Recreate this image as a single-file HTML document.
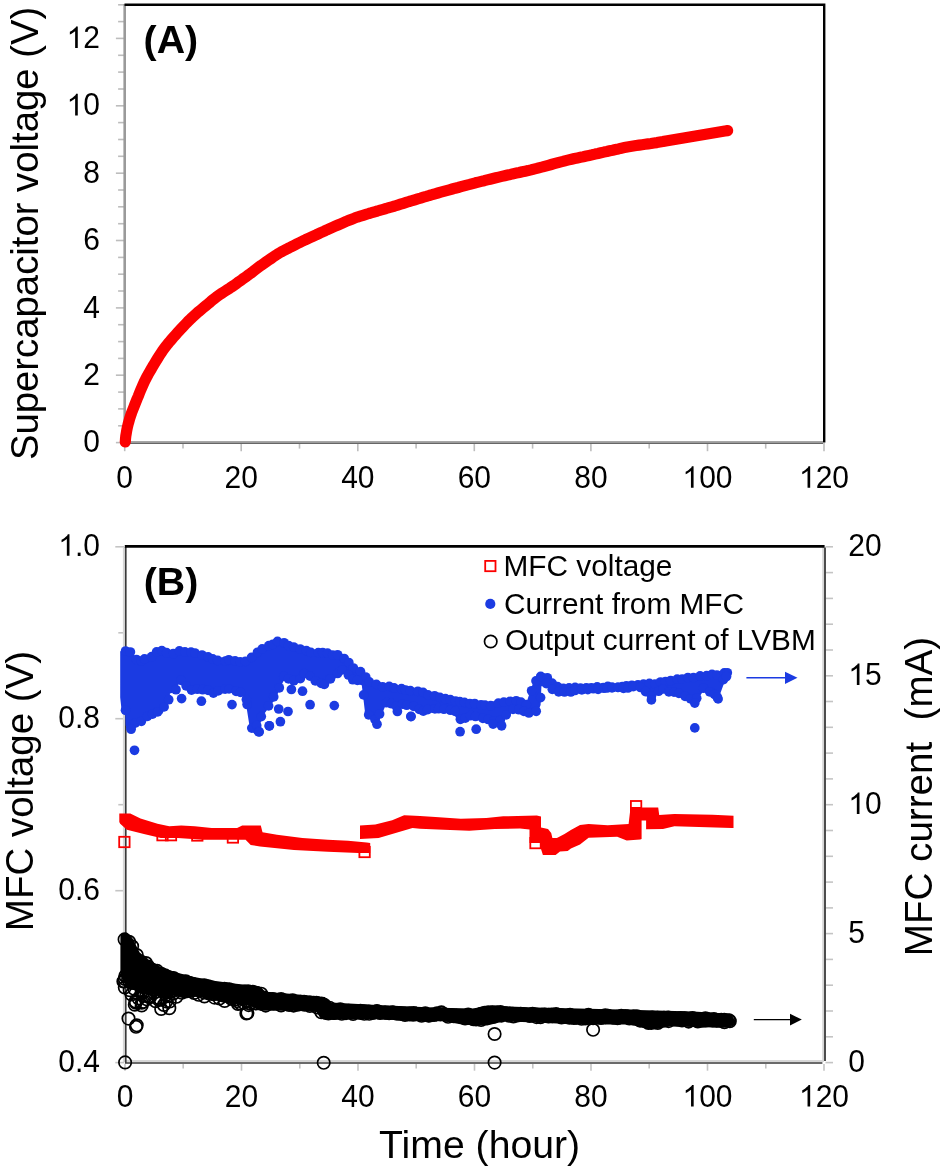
<!DOCTYPE html>
<html><head><meta charset="utf-8"><title>Supercapacitor and MFC chart</title>
<style>html,body{margin:0;padding:0;background:#fff;width:944px;height:1171px;overflow:hidden}svg{display:block}.l{position:absolute;left:0;top:0}.t{position:absolute;left:0;top:0;width:944px;height:1171px;will-change:transform}text{font-family:"Liberation Sans", sans-serif;fill:#000}</style>
</head><body>
<svg class="l" width="944" height="1171" viewBox="0 0 944 1171">
<rect width="944" height="1171" fill="#fff"/>
<g stroke="#bdbdbd" stroke-width="1.6"><line x1="115.9" y1="442.6" x2="124" y2="442.6"/><line x1="118.1" y1="425.8" x2="124" y2="425.8"/><line x1="118.1" y1="408.9" x2="124" y2="408.9"/><line x1="118.1" y1="392.1" x2="124" y2="392.1"/><line x1="115.9" y1="375.2" x2="124" y2="375.2"/><line x1="118.1" y1="358.4" x2="124" y2="358.4"/><line x1="118.1" y1="341.6" x2="124" y2="341.6"/><line x1="118.1" y1="324.7" x2="124" y2="324.7"/><line x1="115.9" y1="307.9" x2="124" y2="307.9"/><line x1="118.1" y1="291" x2="124" y2="291"/><line x1="118.1" y1="274.2" x2="124" y2="274.2"/><line x1="118.1" y1="257.4" x2="124" y2="257.4"/><line x1="115.9" y1="240.5" x2="124" y2="240.5"/><line x1="118.1" y1="223.7" x2="124" y2="223.7"/><line x1="118.1" y1="206.8" x2="124" y2="206.8"/><line x1="118.1" y1="190" x2="124" y2="190"/><line x1="115.9" y1="173.2" x2="124" y2="173.2"/><line x1="118.1" y1="156.3" x2="124" y2="156.3"/><line x1="118.1" y1="139.5" x2="124" y2="139.5"/><line x1="118.1" y1="122.6" x2="124" y2="122.6"/><line x1="115.9" y1="105.8" x2="124" y2="105.8"/><line x1="118.1" y1="89" x2="124" y2="89"/><line x1="118.1" y1="72.1" x2="124" y2="72.1"/><line x1="118.1" y1="55.3" x2="124" y2="55.3"/><line x1="115.9" y1="38.4" x2="124" y2="38.4"/><line x1="118.1" y1="21.6" x2="124" y2="21.6"/><line x1="118.1" y1="4.8" x2="124" y2="4.8"/><line x1="124.7" y1="443" x2="124.7" y2="451.2"/><line x1="183" y1="443" x2="183" y2="448.6"/><line x1="241.2" y1="443" x2="241.2" y2="451.2"/><line x1="299.5" y1="443" x2="299.5" y2="448.6"/><line x1="357.8" y1="443" x2="357.8" y2="451.2"/><line x1="416.1" y1="443" x2="416.1" y2="448.6"/><line x1="474.3" y1="443" x2="474.3" y2="451.2"/><line x1="532.6" y1="443" x2="532.6" y2="448.6"/><line x1="590.9" y1="443" x2="590.9" y2="451.2"/><line x1="649.2" y1="443" x2="649.2" y2="448.6"/><line x1="707.5" y1="443" x2="707.5" y2="451.2"/><line x1="765.7" y1="443" x2="765.7" y2="448.6"/><line x1="824" y1="443" x2="824" y2="451.2"/></g>
<line x1="124.7" y1="4" x2="124.7" y2="443.6" stroke="#9a9a9a" stroke-width="2.6"/>
<line x1="123.5" y1="441.8" x2="823" y2="441.8" stroke="#a6a6a6" stroke-width="1.4"/>
<line x1="123.5" y1="443.2" x2="823" y2="443.2" stroke="#666" stroke-width="1.6"/>
<path d="M124.5 4.8 H824.2 V442.6" fill="none" stroke="#000" stroke-width="2.4"/>
<polyline points="125.3,442 125.5,439 125.8,436 126.3,433.1 126.8,430.1 127.4,427.2 128.1,424.3 128.9,421.4 129.7,418.5 130.6,415.7 131.6,412.8 132.7,410 133.8,407.2 134.9,404.4 136,401.7 137.1,398.9 138.3,396.1 139.4,393.3 140.5,390.5 141.7,387.8 142.9,385 144.1,382.3 145.4,379.6 146.8,376.9 148.2,374.3 149.7,371.7 151.2,369.1 152.7,366.5 154.3,363.9 155.8,361.4 157.4,358.8 158.9,356.3 160.6,353.7 162.2,351.3 164,348.8 165.8,346.4 167.6,344.1 169.5,341.8 171.5,339.5 173.5,337.2 175.5,335 177.5,332.7 179.5,330.5 181.5,328.3 183.6,326.1 185.6,324 187.7,321.8 189.8,319.7 192,317.6 194.2,315.6 196.4,313.6 198.7,311.6 201,309.7 203.3,307.8 205.6,305.9 207.9,304 210.2,302.1 212.5,300.1 214.9,298.3 217.2,296.4 219.7,294.7 222.2,293 224.7,291.4 227.2,289.8 229.7,288.2 232.2,286.5 234.7,284.8 237.1,283.1 239.5,281.3 242,279.6 244.4,277.8 246.9,276.1 249.3,274.3 251.7,272.6 254.1,270.7 256.4,268.9 258.8,267.1 261.2,265.3 263.7,263.6 266.1,261.9 268.6,260.2 271.1,258.5 273.5,256.8 276,255.1 278.5,253.5 281.1,252 283.7,250.6 286.4,249.2 289.1,247.9 291.8,246.5 294.4,245.2 297.1,243.8 299.8,242.5 302.5,241.1 305.2,239.9 307.9,238.6 310.6,237.4 313.4,236.1 316.1,234.9 318.8,233.6 321.5,232.3 324.3,231.1 327,229.8 329.7,228.6 332.5,227.4 335.2,226.2 338,225 340.7,223.8 343.5,222.6 346.2,221.4 349,220.3 351.8,219.2 354.6,218.1 357.4,217.1 360.3,216.2 363.1,215.3 366,214.4 368.9,213.5 371.7,212.7 374.6,211.8 377.5,211 380.4,210.1 383.3,209.3 386.1,208.5 389,207.6 391.9,206.8 394.8,206 397.7,205.1 400.5,204.2 403.4,203.3 406.2,202.4 409.1,201.5 412,200.7 414.8,199.8 417.7,198.9 420.6,198.1 423.5,197.2 426.3,196.4 429.2,195.5 432.1,194.7 435,193.8 437.9,193 440.8,192.2 443.6,191.4 446.5,190.6 449.4,189.8 452.3,189 455.2,188.2 458.1,187.5 461,186.7 463.9,185.9 466.8,185.1 469.7,184.4 472.6,183.6 475.5,182.8 478.4,182.1 481.3,181.4 484.2,180.7 487.2,179.9 490.1,179.2 493,178.5 495.9,177.8 498.8,177.1 501.7,176.4 504.7,175.7 507.6,175 510.5,174.4 513.4,173.7 516.4,173.1 519.3,172.5 522.2,171.8 525.2,171.2 528.1,170.6 531,169.9 533.9,169.1 536.8,168.4 539.7,167.6 542.6,166.9 545.5,166.1 548.4,165.3 551.3,164.5 554.2,163.7 557.1,162.9 560,162.1 562.9,161.4 565.8,160.6 568.7,159.9 571.6,159.2 574.5,158.5 577.5,157.9 580.4,157.3 583.3,156.7 586.3,156 589.2,155.4 592.1,154.8 595.1,154.1 598,153.5 600.9,152.8 603.9,152.1 606.8,151.5 609.7,150.8 612.6,150.2 615.6,149.5 618.5,148.9 621.4,148.2 624.4,147.6 627.3,147 630.2,146.5 633.2,146 636.2,145.5 639.1,145.1 642.1,144.7 645.1,144.3 648.1,143.9 651,143.5 654,143 656.9,142.6 659.9,142.1 662.9,141.6 665.8,141 668.8,140.5 671.7,140 674.7,139.5 677.6,139 680.6,138.5 683.6,138 686.5,137.5 689.5,137 692.4,136.5 695.4,136 698.3,135.5 701.3,135 704.3,134.5 707.2,134 710.2,133.5 713.1,133 716.1,132.5 719,132 722,131.5 724.9,131 727.6,130.6" fill="none" stroke="#fc0000" stroke-width="11.2" stroke-linecap="round" stroke-linejoin="round"/>
<g stroke="#c4c4c4" stroke-width="1.6"><line x1="115.3" y1="1062.6" x2="124" y2="1062.6"/><line x1="118.3" y1="976.6" x2="124" y2="976.6"/><line x1="115.3" y1="890.7" x2="124" y2="890.7"/><line x1="118.3" y1="804.7" x2="124" y2="804.7"/><line x1="115.3" y1="718.7" x2="124" y2="718.7"/><line x1="118.3" y1="632.8" x2="124" y2="632.8"/><line x1="115.3" y1="546.8" x2="124" y2="546.8"/><line x1="825.5" y1="1062.6" x2="833" y2="1062.6"/><line x1="825.5" y1="1036.8" x2="833" y2="1036.8"/><line x1="825.5" y1="1011" x2="833" y2="1011"/><line x1="825.5" y1="985.2" x2="833" y2="985.2"/><line x1="825.5" y1="959.4" x2="833" y2="959.4"/><line x1="825.5" y1="933.6" x2="833" y2="933.6"/><line x1="825.5" y1="907.9" x2="833" y2="907.9"/><line x1="825.5" y1="882.1" x2="833" y2="882.1"/><line x1="825.5" y1="856.3" x2="833" y2="856.3"/><line x1="825.5" y1="830.5" x2="833" y2="830.5"/><line x1="825.5" y1="804.7" x2="833" y2="804.7"/><line x1="825.5" y1="778.9" x2="833" y2="778.9"/><line x1="825.5" y1="753.1" x2="833" y2="753.1"/><line x1="825.5" y1="727.3" x2="833" y2="727.3"/><line x1="825.5" y1="701.5" x2="833" y2="701.5"/><line x1="825.5" y1="675.8" x2="833" y2="675.8"/><line x1="825.5" y1="650" x2="833" y2="650"/><line x1="825.5" y1="624.2" x2="833" y2="624.2"/><line x1="825.5" y1="598.4" x2="833" y2="598.4"/><line x1="825.5" y1="572.6" x2="833" y2="572.6"/><line x1="825.5" y1="546.8" x2="833" y2="546.8"/><line x1="125" y1="1064" x2="125" y2="1070.7"/><line x1="183.2" y1="1064" x2="183.2" y2="1068.5"/><line x1="241.5" y1="1064" x2="241.5" y2="1070.7"/><line x1="299.8" y1="1064" x2="299.8" y2="1068.5"/><line x1="358" y1="1064" x2="358" y2="1070.7"/><line x1="416.2" y1="1064" x2="416.2" y2="1068.5"/><line x1="474.5" y1="1064" x2="474.5" y2="1070.7"/><line x1="532.8" y1="1064" x2="532.8" y2="1068.5"/><line x1="591" y1="1064" x2="591" y2="1070.7"/><line x1="649.2" y1="1064" x2="649.2" y2="1068.5"/><line x1="707.5" y1="1064" x2="707.5" y2="1070.7"/><line x1="765.8" y1="1064" x2="765.8" y2="1068.5"/><line x1="824" y1="1064" x2="824" y2="1070.7"/></g>
<g fill="none">
<path d="M123.8 547 V1061 H823.1 V547" stroke="#d6d6d6" stroke-width="1.8"/>
<path d="M125.75 547 V1063 H822.4" stroke="#3a3a3a" stroke-width="1.7"/>
<path d="M825 547.5 V1061" stroke="#444" stroke-width="1.9"/>
<line x1="124.8" y1="546.3" x2="824.6" y2="546.3" stroke="#000" stroke-width="2.8"/>
</g>
<rect x="485.2" y="560.9" width="10.3" height="10.3" fill="none" stroke="#fc0000" stroke-width="1.8"/>
<circle cx="490.3" cy="603.9" r="5.1" fill="#1b3be2"/>
<circle cx="490.7" cy="641.5" r="6.2" fill="none" stroke="#000" stroke-width="1.7"/>
<line x1="746.4" y1="677.8" x2="786" y2="677.8" stroke="#1b3be2" stroke-width="1.4"/>
<path d="M785 671.7 L797.5 677.8 L785 683.9 Z" fill="#1b3be2"/>
<line x1="753.8" y1="1019.6" x2="791" y2="1019.6" stroke="#000" stroke-width="1.4"/>
<path d="M790 1013.8 L801.8 1019.6 L790 1025.4 Z" fill="#000"/>
<polygon points="120.4,934.8 126.3,932.6 132.2,937.8 139.7,952.6 148.6,960 161.9,967.5 176.7,972.6 191.6,976.4 213.8,980.8 236.1,983.8 250,985.3 260.1,986.5 265.4,991.8 293,993.9 324.7,997.1 331.1,1002.4 367.1,1004.5 409.5,1006.6 440,1007.7 472.4,1008.6 491.4,1005.4 506.3,1006.5 535.9,1007.5 578.3,1008.6 630,1009.7 646.6,1010.3 693.2,1011.5 730.5,1013.8 735.5,1020.8 733,1025 725.8,1027.8 669.9,1026.6 651.3,1030.1 630,1024.5 578.3,1024.5 535.9,1022.4 504.2,1021.3 487.2,1025.6 461.8,1024.5 440,1020.4 420.1,1021.4 388.3,1019.3 345.9,1019.3 333.2,1020 320.5,1018 316.3,1011.9 303.6,1010.8 261.2,1010.8 250,1006 228.6,1003 213.8,1000 199,997.1 184.2,996 169.3,995.6 154.5,994.2 139.7,992.7 124.8,983.8 120.4,975" fill="#000"/><g fill="none" stroke="#000" stroke-width="1.7"><circle cx="124.6" cy="939.4" r="6.2"/><circle cx="125.3" cy="975.9" r="6.2"/><circle cx="129.1" cy="941.8" r="6.2"/><circle cx="128.1" cy="979.6" r="6.2"/><circle cx="132.1" cy="946.3" r="6.2"/><circle cx="132.1" cy="980.8" r="6.2"/><circle cx="136.8" cy="955.1" r="6.2"/><circle cx="136.2" cy="983.6" r="6.2"/><circle cx="141.3" cy="961.8" r="6.2"/><circle cx="141.2" cy="985.8" r="6.2"/><circle cx="146" cy="963.1" r="6.2"/><circle cx="145.7" cy="985.9" r="6.2"/><circle cx="148.3" cy="966.5" r="6.2"/><circle cx="148.6" cy="987.9" r="6.2"/><circle cx="152.4" cy="969.8" r="6.2"/><circle cx="153.3" cy="987" r="6.2"/><circle cx="157.1" cy="970.9" r="6.2"/><circle cx="156.1" cy="986.9" r="6.2"/><circle cx="161.4" cy="973.9" r="6.2"/><circle cx="160.6" cy="988.4" r="6.2"/><circle cx="164.9" cy="975.2" r="6.2"/><circle cx="165.6" cy="989.1" r="6.2"/><circle cx="168.5" cy="977.2" r="6.2"/><circle cx="169.1" cy="990" r="6.2"/><circle cx="173.5" cy="978" r="6.2"/><circle cx="174" cy="987.9" r="6.2"/><circle cx="176.8" cy="980.3" r="6.2"/><circle cx="176.3" cy="989.1" r="6.2"/><circle cx="180.1" cy="981.2" r="6.2"/><circle cx="181.5" cy="989.4" r="6.2"/><circle cx="185.8" cy="981.4" r="6.2"/><circle cx="185.4" cy="989.6" r="6.2"/><circle cx="189.2" cy="982.7" r="6.2"/><circle cx="189.7" cy="991" r="6.2"/><circle cx="192.9" cy="984.1" r="6.2"/><circle cx="192.1" cy="990.6" r="6.2"/><circle cx="197.3" cy="985.7" r="6.2"/><circle cx="197.6" cy="989.6" r="6.2"/><circle cx="200.8" cy="985.7" r="6.2"/><circle cx="200" cy="990.7" r="6.2"/><circle cx="204.3" cy="985.3" r="6.2"/><circle cx="204.1" cy="992.4" r="6.2"/><circle cx="208.3" cy="986.4" r="6.2"/><circle cx="208.8" cy="993.5" r="6.2"/><circle cx="212.2" cy="987.6" r="6.2"/><circle cx="213.1" cy="994.3" r="6.2"/><circle cx="217.6" cy="989.1" r="6.2"/><circle cx="216.6" cy="993.7" r="6.2"/><circle cx="220.7" cy="989.7" r="6.2"/><circle cx="221.9" cy="993.7" r="6.2"/><circle cx="224.4" cy="988.8" r="6.2"/><circle cx="224.5" cy="995.5" r="6.2"/><circle cx="229.2" cy="989.4" r="6.2"/><circle cx="228" cy="996.1" r="6.2"/><circle cx="232.7" cy="990.6" r="6.2"/><circle cx="233.9" cy="997.5" r="6.2"/><circle cx="237" cy="991.3" r="6.2"/><circle cx="237.4" cy="996.1" r="6.2"/><circle cx="241.8" cy="992" r="6.2"/><circle cx="241.7" cy="998.9" r="6.2"/><circle cx="244.8" cy="991.6" r="6.2"/><circle cx="244.2" cy="999" r="6.2"/><circle cx="248.1" cy="991.3" r="6.2"/><circle cx="248.4" cy="998.1" r="6.2"/><circle cx="252.7" cy="991.8" r="6.2"/><circle cx="252" cy="999.5" r="6.2"/><circle cx="256.2" cy="992.9" r="6.2"/><circle cx="256.1" cy="1003.4" r="6.2"/><circle cx="261.2" cy="993.7" r="6.2"/><circle cx="260.5" cy="1003.6" r="6.2"/><circle cx="264.7" cy="997.7" r="6.2"/><circle cx="265.7" cy="1005.6" r="6.2"/><circle cx="268.9" cy="999.1" r="6.2"/><circle cx="268.2" cy="1002.9" r="6.2"/><circle cx="272.7" cy="999" r="6.2"/><circle cx="273.7" cy="1003.1" r="6.2"/><circle cx="276" cy="1000.8" r="6.2"/><circle cx="277.1" cy="1003" r="6.2"/><circle cx="281.1" cy="999" r="6.2"/><circle cx="281.1" cy="1005.5" r="6.2"/><circle cx="285.7" cy="1000.8" r="6.2"/><circle cx="284.5" cy="1003.7" r="6.2"/><circle cx="288.3" cy="1001.3" r="6.2"/><circle cx="289.1" cy="1004.9" r="6.2"/><circle cx="292.7" cy="1000.4" r="6.2"/><circle cx="293.6" cy="1005.6" r="6.2"/><circle cx="297.7" cy="1002.1" r="6.2"/><circle cx="297.6" cy="1004.8" r="6.2"/><circle cx="300.5" cy="1001.8" r="6.2"/><circle cx="300.7" cy="1002.7" r="6.2"/><circle cx="304.1" cy="1001.7" r="6.2"/><circle cx="304.5" cy="1004.8" r="6.2"/><circle cx="309.9" cy="1002.5" r="6.2"/><circle cx="309.9" cy="1006" r="6.2"/><circle cx="313.9" cy="1002.7" r="6.2"/><circle cx="312.4" cy="1004.1" r="6.2"/><circle cx="316.4" cy="1002.8" r="6.2"/><circle cx="317.2" cy="1007.4" r="6.2"/><circle cx="321.7" cy="1003.8" r="6.2"/><circle cx="321.3" cy="1012.3" r="6.2"/><circle cx="324.2" cy="1004.8" r="6.2"/><circle cx="325.8" cy="1012.9" r="6.2"/><circle cx="329.5" cy="1007.7" r="6.2"/><circle cx="328.4" cy="1013.5" r="6.2"/><circle cx="332.7" cy="1010.3" r="6.2"/><circle cx="333.9" cy="1013" r="6.2"/><circle cx="336.8" cy="1010.8" r="6.2"/><circle cx="337.4" cy="1012.1" r="6.2"/><circle cx="340.3" cy="1009.3" r="6.2"/><circle cx="341.8" cy="1013.8" r="6.2"/><circle cx="344.3" cy="1011" r="6.2"/><circle cx="346" cy="1013.1" r="6.2"/><circle cx="348.7" cy="1010.7" r="6.2"/><circle cx="348.3" cy="1011.1" r="6.2"/><circle cx="353.9" cy="1011.1" r="6.2"/><circle cx="353.1" cy="1013.9" r="6.2"/><circle cx="356.9" cy="1011.8" r="6.2"/><circle cx="357.7" cy="1011.7" r="6.2"/><circle cx="360.5" cy="1010.8" r="6.2"/><circle cx="360.5" cy="1012.9" r="6.2"/><circle cx="364.5" cy="1011.3" r="6.2"/><circle cx="364.3" cy="1013.8" r="6.2"/><circle cx="368.7" cy="1011.6" r="6.2"/><circle cx="369.2" cy="1013.8" r="6.2"/><circle cx="372.8" cy="1012.8" r="6.2"/><circle cx="373" cy="1012.7" r="6.2"/><circle cx="377" cy="1011" r="6.2"/><circle cx="376.9" cy="1011.6" r="6.2"/><circle cx="380" cy="1012.9" r="6.2"/><circle cx="380.3" cy="1012.5" r="6.2"/><circle cx="385.5" cy="1012.6" r="6.2"/><circle cx="384.7" cy="1012.7" r="6.2"/><circle cx="389.1" cy="1013.3" r="6.2"/><circle cx="388.2" cy="1012.8" r="6.2"/><circle cx="392.5" cy="1012.4" r="6.2"/><circle cx="393.5" cy="1012.9" r="6.2"/><circle cx="397.1" cy="1013.7" r="6.2"/><circle cx="397.8" cy="1013" r="6.2"/><circle cx="401.2" cy="1013.3" r="6.2"/><circle cx="401" cy="1014" r="6.2"/><circle cx="404.9" cy="1013.6" r="6.2"/><circle cx="405" cy="1015" r="6.2"/><circle cx="409.4" cy="1014.5" r="6.2"/><circle cx="409.9" cy="1013.2" r="6.2"/><circle cx="413.1" cy="1014.8" r="6.2"/><circle cx="413.7" cy="1013.1" r="6.2"/><circle cx="416.2" cy="1013.8" r="6.2"/><circle cx="416.1" cy="1013.7" r="6.2"/><circle cx="420.1" cy="1014.5" r="6.2"/><circle cx="421.6" cy="1015.8" r="6.2"/><circle cx="424.3" cy="1014.7" r="6.2"/><circle cx="425.3" cy="1013.4" r="6.2"/><circle cx="429.8" cy="1015.4" r="6.2"/><circle cx="428.4" cy="1015.6" r="6.2"/><circle cx="432.8" cy="1014.5" r="6.2"/><circle cx="434" cy="1015" r="6.2"/><circle cx="436.3" cy="1014.5" r="6.2"/><circle cx="437" cy="1013.4" r="6.2"/><circle cx="440.4" cy="1014.4" r="6.2"/><circle cx="441.4" cy="1012.4" r="6.2"/><circle cx="445.1" cy="1014.8" r="6.2"/><circle cx="444" cy="1014.1" r="6.2"/><circle cx="449.2" cy="1015.1" r="6.2"/><circle cx="448.1" cy="1016.8" r="6.2"/><circle cx="453.6" cy="1016.2" r="6.2"/><circle cx="452.2" cy="1015.4" r="6.2"/><circle cx="456.1" cy="1015.9" r="6.2"/><circle cx="456.5" cy="1015.8" r="6.2"/><circle cx="460.8" cy="1016.3" r="6.2"/><circle cx="461.6" cy="1016.9" r="6.2"/><circle cx="464.3" cy="1016.4" r="6.2"/><circle cx="465.1" cy="1018.5" r="6.2"/><circle cx="468.2" cy="1014.6" r="6.2"/><circle cx="469.4" cy="1017.9" r="6.2"/><circle cx="472.1" cy="1016.6" r="6.2"/><circle cx="473.3" cy="1019.2" r="6.2"/><circle cx="476.2" cy="1015.7" r="6.2"/><circle cx="476.1" cy="1019.5" r="6.2"/><circle cx="480.9" cy="1013.9" r="6.2"/><circle cx="481.1" cy="1019.9" r="6.2"/><circle cx="484.5" cy="1012.8" r="6.2"/><circle cx="485.1" cy="1018" r="6.2"/><circle cx="488.2" cy="1012.2" r="6.2"/><circle cx="488.1" cy="1017.6" r="6.2"/><circle cx="492.6" cy="1012.2" r="6.2"/><circle cx="493.5" cy="1016.8" r="6.2"/><circle cx="497" cy="1012.2" r="6.2"/><circle cx="496.7" cy="1015" r="6.2"/><circle cx="500.5" cy="1012.1" r="6.2"/><circle cx="501.5" cy="1015.6" r="6.2"/><circle cx="504.4" cy="1013.4" r="6.2"/><circle cx="505.9" cy="1013.4" r="6.2"/><circle cx="509.6" cy="1013.5" r="6.2"/><circle cx="509" cy="1015.8" r="6.2"/><circle cx="512.8" cy="1013.8" r="6.2"/><circle cx="513.4" cy="1016.4" r="6.2"/><circle cx="516.7" cy="1014.7" r="6.2"/><circle cx="517.4" cy="1015.5" r="6.2"/><circle cx="520.8" cy="1013.8" r="6.2"/><circle cx="520.1" cy="1014.1" r="6.2"/><circle cx="524.1" cy="1014.8" r="6.2"/><circle cx="524.5" cy="1014.3" r="6.2"/><circle cx="528.2" cy="1015.1" r="6.2"/><circle cx="529.7" cy="1016" r="6.2"/><circle cx="532.6" cy="1013.9" r="6.2"/><circle cx="532.6" cy="1015.5" r="6.2"/><circle cx="536.3" cy="1014.5" r="6.2"/><circle cx="536.5" cy="1017.1" r="6.2"/><circle cx="541.9" cy="1014.8" r="6.2"/><circle cx="540.5" cy="1017.3" r="6.2"/><circle cx="544.6" cy="1014.5" r="6.2"/><circle cx="544" cy="1015.8" r="6.2"/><circle cx="548.9" cy="1014.9" r="6.2"/><circle cx="548.4" cy="1016.4" r="6.2"/><circle cx="552" cy="1014.5" r="6.2"/><circle cx="552.2" cy="1016.2" r="6.2"/><circle cx="556.1" cy="1014.1" r="6.2"/><circle cx="556.6" cy="1015.9" r="6.2"/><circle cx="561.2" cy="1015.3" r="6.2"/><circle cx="561.5" cy="1017.4" r="6.2"/><circle cx="565.4" cy="1016.2" r="6.2"/><circle cx="564.8" cy="1016.6" r="6.2"/><circle cx="570" cy="1014.7" r="6.2"/><circle cx="569.4" cy="1017.8" r="6.2"/><circle cx="572.1" cy="1016.3" r="6.2"/><circle cx="573.8" cy="1017.9" r="6.2"/><circle cx="577.5" cy="1016.4" r="6.2"/><circle cx="576.3" cy="1017.8" r="6.2"/><circle cx="581" cy="1016.5" r="6.2"/><circle cx="581.6" cy="1018.8" r="6.2"/><circle cx="585.2" cy="1016.7" r="6.2"/><circle cx="585.4" cy="1018.4" r="6.2"/><circle cx="588.5" cy="1014.9" r="6.2"/><circle cx="588.3" cy="1017.4" r="6.2"/><circle cx="592.2" cy="1016.8" r="6.2"/><circle cx="593.1" cy="1018.2" r="6.2"/><circle cx="597.3" cy="1016.5" r="6.2"/><circle cx="597" cy="1016.3" r="6.2"/><circle cx="601.6" cy="1016.7" r="6.2"/><circle cx="601" cy="1017.9" r="6.2"/><circle cx="605.3" cy="1015.3" r="6.2"/><circle cx="605.5" cy="1017.1" r="6.2"/><circle cx="608.1" cy="1015.8" r="6.2"/><circle cx="609.5" cy="1016.9" r="6.2"/><circle cx="613.5" cy="1017.5" r="6.2"/><circle cx="613" cy="1017.4" r="6.2"/><circle cx="617" cy="1016.9" r="6.2"/><circle cx="617.5" cy="1018.2" r="6.2"/><circle cx="621.3" cy="1015.7" r="6.2"/><circle cx="620.3" cy="1017.1" r="6.2"/><circle cx="625.5" cy="1016.3" r="6.2"/><circle cx="625.1" cy="1016.3" r="6.2"/><circle cx="628.1" cy="1016.3" r="6.2"/><circle cx="629.3" cy="1018.4" r="6.2"/><circle cx="633.4" cy="1016.4" r="6.2"/><circle cx="633" cy="1018.5" r="6.2"/><circle cx="636.9" cy="1016.2" r="6.2"/><circle cx="637.8" cy="1018.7" r="6.2"/><circle cx="642" cy="1018.2" r="6.2"/><circle cx="640" cy="1020.6" r="6.2"/><circle cx="645.6" cy="1018.4" r="6.2"/><circle cx="644.9" cy="1021" r="6.2"/><circle cx="648.4" cy="1018.4" r="6.2"/><circle cx="648.4" cy="1023" r="6.2"/><circle cx="652.3" cy="1017.6" r="6.2"/><circle cx="653.9" cy="1022" r="6.2"/><circle cx="657.6" cy="1017.7" r="6.2"/><circle cx="657.8" cy="1022.9" r="6.2"/><circle cx="660.5" cy="1018.6" r="6.2"/><circle cx="661" cy="1020.1" r="6.2"/><circle cx="664" cy="1017.9" r="6.2"/><circle cx="664.9" cy="1020.2" r="6.2"/><circle cx="668.3" cy="1017.6" r="6.2"/><circle cx="668.6" cy="1021.1" r="6.2"/><circle cx="672" cy="1018.6" r="6.2"/><circle cx="673.7" cy="1018.8" r="6.2"/><circle cx="677.9" cy="1018.7" r="6.2"/><circle cx="677.8" cy="1019.4" r="6.2"/><circle cx="680.7" cy="1018.1" r="6.2"/><circle cx="682" cy="1020.4" r="6.2"/><circle cx="684.7" cy="1018.2" r="6.2"/><circle cx="684.6" cy="1018.9" r="6.2"/><circle cx="688.2" cy="1019.2" r="6.2"/><circle cx="688.6" cy="1021.6" r="6.2"/><circle cx="692.5" cy="1018.1" r="6.2"/><circle cx="693" cy="1019.5" r="6.2"/><circle cx="696.7" cy="1019.8" r="6.2"/><circle cx="697.8" cy="1021.4" r="6.2"/><circle cx="701.3" cy="1020" r="6.2"/><circle cx="701.9" cy="1020.7" r="6.2"/><circle cx="705.4" cy="1018.3" r="6.2"/><circle cx="705.5" cy="1020.5" r="6.2"/><circle cx="709.5" cy="1019.9" r="6.2"/><circle cx="708.6" cy="1019.4" r="6.2"/><circle cx="713.9" cy="1019" r="6.2"/><circle cx="712.9" cy="1020.4" r="6.2"/><circle cx="716.6" cy="1020.6" r="6.2"/><circle cx="718" cy="1020.2" r="6.2"/><circle cx="721.3" cy="1019.9" r="6.2"/><circle cx="721.1" cy="1020.7" r="6.2"/><circle cx="724.3" cy="1019.8" r="6.2"/><circle cx="724.4" cy="1022.3" r="6.2"/><circle cx="729" cy="1020.2" r="6.2"/><circle cx="729.8" cy="1021.3" r="6.2"/><circle cx="124.8" cy="979" r="6.2"/><circle cx="123.4" cy="981.5" r="6.2"/><circle cx="124" cy="981.3" r="6.2"/><circle cx="131.5" cy="994.4" r="6.2"/><circle cx="129.7" cy="990.2" r="6.2"/><circle cx="129.4" cy="981.4" r="6.2"/><circle cx="131.9" cy="983" r="6.2"/><circle cx="135.5" cy="1001.5" r="6.2"/><circle cx="134.1" cy="988.8" r="6.2"/><circle cx="134.8" cy="1004.7" r="6.2"/><circle cx="136.5" cy="983.2" r="6.2"/><circle cx="135.8" cy="1002.7" r="6.2"/><circle cx="140.3" cy="986.3" r="6.2"/><circle cx="141.7" cy="1005.4" r="6.2"/><circle cx="141.9" cy="991.2" r="6.2"/><circle cx="138.6" cy="998.4" r="6.2"/><circle cx="141.8" cy="1002.7" r="6.2"/><circle cx="146.1" cy="996.1" r="6.2"/><circle cx="143.2" cy="1001.8" r="6.2"/><circle cx="146.7" cy="999.3" r="6.2"/><circle cx="143.5" cy="992.2" r="6.2"/><circle cx="150.8" cy="988.6" r="6.2"/><circle cx="150.1" cy="997.3" r="6.2"/><circle cx="148.9" cy="996.8" r="6.2"/><circle cx="149.2" cy="996.3" r="6.2"/><circle cx="155.6" cy="1001.2" r="6.2"/><circle cx="153.9" cy="992.7" r="6.2"/><circle cx="155.8" cy="991.7" r="6.2"/><circle cx="160" cy="999.1" r="6.2"/><circle cx="159" cy="1000" r="6.2"/><circle cx="158.9" cy="988.7" r="6.2"/><circle cx="159.7" cy="998.8" r="6.2"/><circle cx="166.2" cy="1001.5" r="6.2"/><circle cx="163.8" cy="1005" r="6.2"/><circle cx="166.3" cy="992.3" r="6.2"/><circle cx="166" cy="994.9" r="6.2"/><circle cx="170" cy="992" r="6.2"/><circle cx="169.7" cy="1001.4" r="6.2"/><circle cx="168.6" cy="995.4" r="6.2"/><circle cx="171.9" cy="990.9" r="6.2"/><circle cx="173.2" cy="993.7" r="6.2"/><circle cx="176.5" cy="996.8" r="6.2"/><circle cx="181.7" cy="990.8" r="6.2"/><circle cx="181.7" cy="992.8" r="6.2"/><circle cx="185.7" cy="991.4" r="6.2"/><circle cx="189.3" cy="989.9" r="6.2"/><circle cx="194.1" cy="992.9" r="6.2"/><circle cx="198.5" cy="994.8" r="6.2"/><circle cx="204.4" cy="996.4" r="6.2"/><circle cx="209.7" cy="993.2" r="6.2"/><circle cx="214.5" cy="997.6" r="6.2"/><circle cx="219.5" cy="998.5" r="6.2"/><circle cx="224.6" cy="1000.9" r="6.2"/><circle cx="223.2" cy="995.4" r="6.2"/><circle cx="231.7" cy="998.9" r="6.2"/><circle cx="231.6" cy="998.5" r="6.2"/><circle cx="236.8" cy="1001.1" r="6.2"/><circle cx="235.9" cy="999.2" r="6.2"/><circle cx="238" cy="1004" r="6.2"/><circle cx="240.5" cy="1003.4" r="6.2"/><circle cx="243.9" cy="1002.9" r="6.2"/><circle cx="246.8" cy="1001" r="6.2"/><circle cx="249.7" cy="1003.6" r="6.2"/><circle cx="248.7" cy="1005.1" r="6.2"/><circle cx="125.1" cy="1062.4" r="6.2"/><circle cx="128.5" cy="1018.6" r="6.2"/><circle cx="136.7" cy="1025.3" r="6.2"/><circle cx="136" cy="1026.8" r="6.2"/><circle cx="161.2" cy="1009" r="6.2"/><circle cx="169.3" cy="1008.2" r="6.2"/><circle cx="246.4" cy="1013.4" r="6.2"/><circle cx="124.8" cy="987.5" r="6.2"/><circle cx="247.4" cy="1013" r="6.2"/><circle cx="323.7" cy="1062.8" r="6.2"/><circle cx="494.6" cy="1034" r="6.2"/><circle cx="494.6" cy="1062.6" r="6.2"/><circle cx="593.1" cy="1029.8" r="6.2"/></g>
<g fill="none" stroke="#fc0000" stroke-width="1.8"><rect x="119.2" y="836.8" width="10.4" height="10.4"/><rect x="157.3" y="830" width="10.4" height="10.4"/><rect x="165.8" y="830" width="10.4" height="10.4"/><rect x="192.1" y="830.3" width="10.4" height="10.4"/><rect x="227.7" y="832.3" width="10.4" height="10.4"/><rect x="359.4" y="846.8" width="10.4" height="10.4"/><rect x="530.3" y="837.9" width="10.4" height="10.4"/><rect x="630.9" y="801" width="10.4" height="10.4"/></g><polygon points="119.3,813.6 130.3,813.6 140.5,818.6 157.5,823.7 169.3,826.3 181.2,825.4 194.7,826.3 211.7,828 237.1,828 242.2,825.4 260.8,825.4 262.5,832.2 277,834.7 302.4,838.1 327.8,839.8 348.1,840.7 366.8,842.4 370.2,843 370.2,853 358.3,853 327.8,851.7 293.9,850 260,846.6 250.7,844.9 245.6,839.8 228.6,839.8 203.2,839.8 177.8,838.1 160.8,838.1 143.9,833.9 126.9,829.7 120.2,823.7 119.3,822" fill="#fc0000"/><polygon points="360,825.4 375.3,824.6 392.2,820.3 404.1,815.3 410,815.4 420,816.1 435.4,817.1 460.8,818.8 486.3,818 503.2,816.3 536.8,815.5 541,816.6 541,827.6 548,829 551.2,833 552.4,838 556.9,838 564.5,834 570.9,830 580,825 588.6,823.9 607.7,825.3 628.6,823.9 630.6,807 641.6,807 641.6,823 641.6,839 640.1,839.6 626.7,840.5 617.2,836.7 588.6,837.7 580,844.5 570.9,848.5 567.7,851 560,851.5 555.6,855 542.9,855 541,849 541,843 529.5,843 529.5,829.5 520,828.5 494.7,829 469.3,830.7 443.9,829.8 420,828.8 412.5,828 395.6,833 378.6,838.1 360,839" fill="#fc0000"/><polygon points="641,807.5 658.2,807.5 659.2,815 674.4,814 712.6,814.8 733.5,815.7 733.5,828 731.6,828.1 674.4,826.2 663,829.1 646.1,829.2 646.1,820.5 641,820.5" fill="#fc0000"/>
<polygon points="120.2,651.5 125.7,647 131,649.5 133.5,654.5 138.2,660 144.6,656.3 154.1,651.2 161.8,647.4 170,651.2 176,649.3 181.2,648.2 194,650.3 206,653.5 217,657.5 230,657.5 245,658.5 252,654.5 260.1,647.9 270,642.5 278.7,638.6 294,644.5 311,649.6 329.6,650.5 343.1,653.9 353.3,664.9 365.2,673.3 373.6,681.8 385.5,683.5 404.2,686.9 422,690.1 442.3,695.2 455.8,697.8 472.8,701.1 489.7,702.8 498.2,699.5 515.2,698.6 527,701.1 531.3,687.9 533.8,681.1 538.9,675.2 544,673 549.1,676.1 555.8,682.8 565,686.2 576.2,684.4 608,684.4 639.7,682.3 656.7,680.2 673.6,677 692.7,674.9 707.5,672.3 726,670.6 729,672.5 729,673.5 726.6,676.2 718.1,699.5 703.3,691.1 694.8,703.8 677.9,696.4 660.9,692.1 650.3,699.5 639.7,690 608,691.1 576.2,693.2 560.9,695.6 554.2,693.1 545.7,685.5 541.4,686.3 540.6,705 537.2,713.5 528.7,716.5 513.5,710.5 501.6,723.3 489.7,723.5 472.8,718.5 460.9,723.5 452.5,713 438.9,712 422,713.5 405,706.5 397.4,709 385.5,705.6 377,726 365.2,714.1 361.8,685.3 349.9,681.9 343.1,671.7 331.3,681.9 322.8,688.7 305.8,675.1 297.4,683.6 283.8,680.2 275.3,698.9 265.2,712.4 255,734.5 250,729.2 245,697.5 230,691.5 215,695.5 200,691.5 189.8,692.3 186.2,689.7 181,683.1 177.3,685.3 175.8,692 169.9,693.5 169.9,698.6 169.2,703.1 164.7,709 162.5,713.5 156.6,715 149.1,717.9 144,722.4 136.5,726.1 131,730.8 125.5,725.5 125.2,713.5 121.5,709.5 120.2,697.5" fill="#1b3be2"/><g fill="#1b3be2"><circle cx="125.6" cy="651" r="4.85"/><circle cx="130.4" cy="652" r="4.85"/><circle cx="136.5" cy="659.5" r="4.85"/><circle cx="141.3" cy="661" r="4.85"/><circle cx="144.5" cy="658.9" r="4.85"/><circle cx="151.6" cy="656.7" r="4.85"/><circle cx="156.6" cy="651.9" r="4.85"/><circle cx="161.8" cy="650.7" r="4.85"/><circle cx="166.6" cy="652.7" r="4.85"/><circle cx="173.3" cy="653.7" r="4.85"/><circle cx="179.4" cy="650.9" r="4.85"/><circle cx="184.9" cy="651.9" r="4.85"/><circle cx="191" cy="652.1" r="4.85"/><circle cx="195" cy="653" r="4.85"/><circle cx="202" cy="655" r="4.85"/><circle cx="208.1" cy="656.9" r="4.85"/><circle cx="212.7" cy="658.9" r="4.85"/><circle cx="217.7" cy="660.4" r="4.85"/><circle cx="225.4" cy="661.2" r="4.85"/><circle cx="228.8" cy="659.8" r="4.85"/><circle cx="235.1" cy="660.9" r="4.85"/><circle cx="240.2" cy="661.8" r="4.85"/><circle cx="245.4" cy="661.4" r="4.85"/><circle cx="251.5" cy="657.4" r="4.85"/><circle cx="257.5" cy="652.3" r="4.85"/><circle cx="262.2" cy="648.9" r="4.85"/><circle cx="268.8" cy="645.7" r="4.85"/><circle cx="272.7" cy="644.4" r="4.85"/><circle cx="277.5" cy="641.4" r="4.85"/><circle cx="284.1" cy="642.8" r="4.85"/><circle cx="288.5" cy="645.5" r="4.85"/><circle cx="293.7" cy="647" r="4.85"/><circle cx="300.2" cy="649" r="4.85"/><circle cx="306.4" cy="650.6" r="4.85"/><circle cx="310.8" cy="652.4" r="4.85"/><circle cx="318.3" cy="652.6" r="4.85"/><circle cx="322.7" cy="652.6" r="4.85"/><circle cx="327.5" cy="653.2" r="4.85"/><circle cx="332.7" cy="655" r="4.85"/><circle cx="337.6" cy="654.8" r="4.85"/><circle cx="344.2" cy="658.5" r="4.85"/><circle cx="348.8" cy="662.5" r="4.85"/><circle cx="353.4" cy="668" r="4.85"/><circle cx="360.5" cy="671.6" r="4.85"/><circle cx="365.7" cy="677" r="4.85"/><circle cx="369.3" cy="681.9" r="4.85"/><circle cx="376.4" cy="684.4" r="4.85"/><circle cx="382.6" cy="686.8" r="4.85"/><circle cx="389.2" cy="686.4" r="4.85"/><circle cx="394.1" cy="687.9" r="4.85"/><circle cx="401.5" cy="688.7" r="4.85"/><circle cx="405.6" cy="690.2" r="4.85"/><circle cx="410.3" cy="690.6" r="4.85"/><circle cx="417.8" cy="691.3" r="4.85"/><circle cx="423.1" cy="692.4" r="4.85"/><circle cx="428" cy="694.9" r="4.85"/><circle cx="434.6" cy="695.8" r="4.85"/><circle cx="439.9" cy="697.4" r="4.85"/><circle cx="445.4" cy="698.7" r="4.85"/><circle cx="450.3" cy="699.6" r="4.85"/><circle cx="455.6" cy="701.1" r="4.85"/><circle cx="459.8" cy="701.6" r="4.85"/><circle cx="464.4" cy="702.4" r="4.85"/><circle cx="469.8" cy="703.5" r="4.85"/><circle cx="474.7" cy="703.5" r="4.85"/><circle cx="481" cy="704.8" r="4.85"/><circle cx="485" cy="705.1" r="4.85"/><circle cx="490.7" cy="705.7" r="4.85"/><circle cx="498.4" cy="703.1" r="4.85"/><circle cx="503.8" cy="702.2" r="4.85"/><circle cx="510.1" cy="701.3" r="4.85"/><circle cx="516.2" cy="700.8" r="4.85"/><circle cx="521" cy="702.1" r="4.85"/><circle cx="526.3" cy="704.6" r="4.85"/><circle cx="531.6" cy="690.8" r="4.85"/><circle cx="536" cy="680.9" r="4.85"/><circle cx="540.7" cy="676.4" r="4.85"/><circle cx="547.3" cy="677.8" r="4.85"/><circle cx="552.1" cy="683.2" r="4.85"/><circle cx="557.5" cy="686.6" r="4.85"/><circle cx="563.4" cy="688.4" r="4.85"/><circle cx="569.1" cy="687.9" r="4.85"/><circle cx="575.1" cy="687.4" r="4.85"/><circle cx="580.5" cy="688.2" r="4.85"/><circle cx="586.3" cy="687.8" r="4.85"/><circle cx="591.3" cy="687.8" r="4.85"/><circle cx="597.2" cy="686.9" r="4.85"/><circle cx="603.3" cy="687.5" r="4.85"/><circle cx="607.8" cy="686.4" r="4.85"/><circle cx="612" cy="687.2" r="4.85"/><circle cx="618.1" cy="687.4" r="4.85"/><circle cx="622.3" cy="686.6" r="4.85"/><circle cx="626.4" cy="685.8" r="4.85"/><circle cx="631.8" cy="685.3" r="4.85"/><circle cx="638" cy="684.8" r="4.85"/><circle cx="643.5" cy="684.1" r="4.85"/><circle cx="649.4" cy="683.4" r="4.85"/><circle cx="654.9" cy="684.1" r="4.85"/><circle cx="660.5" cy="682" r="4.85"/><circle cx="665.5" cy="681.7" r="4.85"/><circle cx="670.7" cy="680.5" r="4.85"/><circle cx="677.2" cy="679.1" r="4.85"/><circle cx="682.2" cy="679" r="4.85"/><circle cx="687.9" cy="677.5" r="4.85"/><circle cx="693.5" cy="677.6" r="4.85"/><circle cx="700.1" cy="675.9" r="4.85"/><circle cx="706.6" cy="675.7" r="4.85"/><circle cx="712" cy="674.4" r="4.85"/><circle cx="716.9" cy="675" r="4.85"/><circle cx="724.3" cy="672.9" r="4.85"/><circle cx="125.5" cy="710.3" r="4.85"/><circle cx="130.9" cy="727.3" r="4.85"/><circle cx="135.2" cy="723" r="4.85"/><circle cx="141.4" cy="721.3" r="4.85"/><circle cx="147.5" cy="716.3" r="4.85"/><circle cx="152.5" cy="714.1" r="4.85"/><circle cx="157.7" cy="711.9" r="4.85"/><circle cx="164.1" cy="706.9" r="4.85"/><circle cx="168.7" cy="699.7" r="4.85"/><circle cx="176" cy="689.7" r="4.85"/><circle cx="181.1" cy="680.3" r="4.85"/><circle cx="186.1" cy="685.8" r="4.85"/><circle cx="191.5" cy="690.1" r="4.85"/><circle cx="197.3" cy="689.2" r="4.85"/><circle cx="202.7" cy="689.7" r="4.85"/><circle cx="208.1" cy="690.3" r="4.85"/><circle cx="213.4" cy="693.1" r="4.85"/><circle cx="218.1" cy="690.8" r="4.85"/><circle cx="225.1" cy="689.1" r="4.85"/><circle cx="229" cy="688.9" r="4.85"/><circle cx="236.1" cy="691.3" r="4.85"/><circle cx="240.5" cy="692.4" r="4.85"/><circle cx="247.1" cy="704.5" r="4.85"/><circle cx="251.8" cy="728.1" r="4.85"/><circle cx="256.7" cy="725.7" r="4.85"/><circle cx="261.3" cy="716.6" r="4.85"/><circle cx="268.6" cy="705.9" r="4.85"/><circle cx="273.7" cy="696.9" r="4.85"/><circle cx="279.3" cy="687.8" r="4.85"/><circle cx="283.8" cy="676.4" r="4.85"/><circle cx="288.5" cy="678.9" r="4.85"/><circle cx="293.8" cy="680.7" r="4.85"/><circle cx="300.4" cy="678.6" r="4.85"/><circle cx="304.1" cy="673.6" r="4.85"/><circle cx="310" cy="676.1" r="4.85"/><circle cx="315.3" cy="680.9" r="4.85"/><circle cx="321.2" cy="683.4" r="4.85"/><circle cx="324.4" cy="684.4" r="4.85"/><circle cx="330.5" cy="678.8" r="4.85"/><circle cx="337.6" cy="673.5" r="4.85"/><circle cx="342.2" cy="669.9" r="4.85"/><circle cx="348.4" cy="675" r="4.85"/><circle cx="352.8" cy="679.7" r="4.85"/><circle cx="357.4" cy="680.3" r="4.85"/><circle cx="363.6" cy="694.9" r="4.85"/><circle cx="368.7" cy="714.8" r="4.85"/><circle cx="375" cy="719.5" r="4.85"/><circle cx="379.6" cy="714" r="4.85"/><circle cx="386.4" cy="702.7" r="4.85"/><circle cx="391.6" cy="703.7" r="4.85"/><circle cx="396.3" cy="706.2" r="4.85"/><circle cx="402.5" cy="704.2" r="4.85"/><circle cx="406.7" cy="705.2" r="4.85"/><circle cx="413.7" cy="706.3" r="4.85"/><circle cx="419.2" cy="709.3" r="4.85"/><circle cx="423.3" cy="711.1" r="4.85"/><circle cx="427.7" cy="709.6" r="4.85"/><circle cx="434.9" cy="708.8" r="4.85"/><circle cx="438.6" cy="708.7" r="4.85"/><circle cx="443.9" cy="709.2" r="4.85"/><circle cx="450.4" cy="710.2" r="4.85"/><circle cx="455.1" cy="711.4" r="4.85"/><circle cx="460.4" cy="719.3" r="4.85"/><circle cx="465.3" cy="718.1" r="4.85"/><circle cx="470.4" cy="715.7" r="4.85"/><circle cx="475.5" cy="716.5" r="4.85"/><circle cx="482.9" cy="718.4" r="4.85"/><circle cx="488.2" cy="719.5" r="4.85"/><circle cx="493.8" cy="720.9" r="4.85"/><circle cx="500.2" cy="720.5" r="4.85"/><circle cx="506.2" cy="714.8" r="4.85"/><circle cx="513" cy="709.4" r="4.85"/><circle cx="518.9" cy="709.7" r="4.85"/><circle cx="523.9" cy="711.3" r="4.85"/><circle cx="528.9" cy="713" r="4.85"/><circle cx="536.2" cy="711.3" r="4.85"/><circle cx="540.6" cy="697.6" r="4.85"/><circle cx="546.3" cy="683.6" r="4.85"/><circle cx="552.3" cy="689.3" r="4.85"/><circle cx="558.7" cy="691.9" r="4.85"/><circle cx="564.5" cy="692" r="4.85"/><circle cx="570.8" cy="692" r="4.85"/><circle cx="575" cy="690.5" r="4.85"/><circle cx="581.8" cy="689.9" r="4.85"/><circle cx="587.8" cy="689.6" r="4.85"/><circle cx="593.3" cy="688.7" r="4.85"/><circle cx="598.1" cy="689.3" r="4.85"/><circle cx="604" cy="688.2" r="4.85"/><circle cx="607.2" cy="688" r="4.85"/><circle cx="612" cy="687.9" r="4.85"/><circle cx="617.8" cy="687.4" r="4.85"/><circle cx="623.5" cy="688.4" r="4.85"/><circle cx="628" cy="688" r="4.85"/><circle cx="633.3" cy="686.6" r="4.85"/><circle cx="640.5" cy="687.5" r="4.85"/><circle cx="645.5" cy="691.6" r="4.85"/><circle cx="651.5" cy="695.8" r="4.85"/><circle cx="658.6" cy="691.2" r="4.85"/><circle cx="663.1" cy="689" r="4.85"/><circle cx="668.9" cy="691.9" r="4.85"/><circle cx="674" cy="692.1" r="4.85"/><circle cx="678.9" cy="693.3" r="4.85"/><circle cx="685.1" cy="696.3" r="4.85"/><circle cx="690.6" cy="698.9" r="4.85"/><circle cx="696.7" cy="698.2" r="4.85"/><circle cx="703.5" cy="688.2" r="4.85"/><circle cx="709.7" cy="691.8" r="4.85"/><circle cx="714.4" cy="694.3" r="4.85"/><circle cx="717.2" cy="697" r="4.85"/><circle cx="723.5" cy="679.6" r="4.85"/><circle cx="134.5" cy="750.3" r="4.85"/><circle cx="131.1" cy="729.2" r="4.85"/><circle cx="181.6" cy="698.6" r="4.85"/><circle cx="201.4" cy="701.2" r="4.85"/><circle cx="232" cy="704.6" r="4.85"/><circle cx="246.4" cy="699.5" r="4.85"/><circle cx="269.2" cy="725.8" r="4.85"/><circle cx="258.7" cy="731.7" r="4.85"/><circle cx="291.4" cy="689.5" r="4.85"/><circle cx="302.5" cy="691.2" r="4.85"/><circle cx="310.1" cy="704.7" r="4.85"/><circle cx="334.3" cy="705.6" r="4.85"/><circle cx="280.4" cy="721.7" r="4.85"/><circle cx="269.4" cy="725.9" r="4.85"/><circle cx="259.2" cy="731.9" r="4.85"/><circle cx="288" cy="711.5" r="4.85"/><circle cx="278.7" cy="709" r="4.85"/><circle cx="377" cy="724.2" r="4.85"/><circle cx="397.4" cy="711.5" r="4.85"/><circle cx="411" cy="716.6" r="4.85"/><circle cx="410.9" cy="716.4" r="4.85"/><circle cx="460.1" cy="731.7" r="4.85"/><circle cx="476.2" cy="729.2" r="4.85"/><circle cx="493.1" cy="724.1" r="4.85"/><circle cx="501.6" cy="725.8" r="4.85"/><circle cx="694.8" cy="727.9" r="4.85"/><circle cx="651.4" cy="699.9" r="4.85"/><circle cx="694.8" cy="703.1" r="4.85"/><circle cx="718.1" cy="698.9" r="4.85"/><circle cx="727.3" cy="672.8" r="4.85"/><circle cx="726.5" cy="676.5" r="4.85"/></g>
</svg>
<div class="t"><svg width="944" height="1171" viewBox="0 0 944 1171">
<text transform="translate(100,452.2) scale(1,1.035)" font-size="30" text-anchor="end">0</text>
<text transform="translate(100,384.8) scale(1,1.035)" font-size="30" text-anchor="end">2</text>
<text transform="translate(100,317.5) scale(1,1.035)" font-size="30" text-anchor="end">4</text>
<text transform="translate(100,250.1) scale(1,1.035)" font-size="30" text-anchor="end">6</text>
<text transform="translate(100,182.8) scale(1,1.035)" font-size="30" text-anchor="end">8</text>
<text transform="translate(100,115.4) scale(1,1.035)" font-size="30" text-anchor="end"> 0</text>
<path transform="translate(66.6,115.4) scale(0.014648,-0.014648)" d="M763 0H583V1147C518 1085 412 1023 306 961C267 939 243 935 222 930V1104C373 1175 486 1276 599 1377C621 1408 646 1440 646 1472H763Z"/>
<text transform="translate(100,48) scale(1,1.035)" font-size="30" text-anchor="end"> 2</text>
<path transform="translate(66.6,48) scale(0.014648,-0.014648)" d="M763 0H583V1147C518 1085 412 1023 306 961C267 939 243 935 222 930V1104C373 1175 486 1276 599 1377C621 1408 646 1440 646 1472H763Z"/>
<text transform="translate(124.7,487.8) scale(1,1.035)" font-size="30" text-anchor="middle">0</text>
<text transform="translate(241.2,487.8) scale(1,1.035)" font-size="30" text-anchor="middle">20</text>
<text transform="translate(357.8,487.8) scale(1,1.035)" font-size="30" text-anchor="middle">40</text>
<text transform="translate(474.3,487.8) scale(1,1.035)" font-size="30" text-anchor="middle">60</text>
<text transform="translate(590.9,487.8) scale(1,1.035)" font-size="30" text-anchor="middle">80</text>
<text transform="translate(707.5,487.8) scale(1,1.035)" font-size="30" text-anchor="middle"> 00</text>
<path transform="translate(682.4,487.8) scale(0.014648,-0.014648)" d="M763 0H583V1147C518 1085 412 1023 306 961C267 939 243 935 222 930V1104C373 1175 486 1276 599 1377C621 1408 646 1440 646 1472H763Z"/>
<text transform="translate(824,487.8) scale(1,1.035)" font-size="30" text-anchor="middle"> 20</text>
<path transform="translate(799,487.8) scale(0.014648,-0.014648)" d="M763 0H583V1147C518 1085 412 1023 306 961C267 939 243 935 222 930V1104C373 1175 486 1276 599 1377C621 1408 646 1440 646 1472H763Z"/>
<text transform="translate(38.3,233.4) rotate(-90)" font-size="38.3" text-anchor="middle">Supercapacitor voltage (V)</text>
<text transform="translate(143.6,52.6)" font-size="39.3" font-weight="bold">(A)</text>
<text transform="translate(100,1071.6) scale(1,1.035)" font-size="30" text-anchor="end">0.4</text>
<text transform="translate(100,899.7) scale(1,1.035)" font-size="30" text-anchor="end">0.6</text>
<text transform="translate(100,727.7) scale(1,1.035)" font-size="30" text-anchor="end">0.8</text>
<text transform="translate(100,555.8) scale(1,1.035)" font-size="30" text-anchor="end"> .0</text>
<path transform="translate(58.3,555.8) scale(0.014648,-0.014648)" d="M763 0H583V1147C518 1085 412 1023 306 961C267 939 243 935 222 930V1104C373 1175 486 1276 599 1377C621 1408 646 1440 646 1472H763Z"/>
<text transform="translate(848.3,1071.9) scale(1,1.035)" font-size="30">0</text>
<text transform="translate(848.3,942.9) scale(1,1.035)" font-size="30">5</text>
<text transform="translate(848.3,814) scale(1,1.035)" font-size="30"> 0</text>
<path transform="translate(848.3,814) scale(0.014648,-0.014648)" d="M763 0H583V1147C518 1085 412 1023 306 961C267 939 243 935 222 930V1104C373 1175 486 1276 599 1377C621 1408 646 1440 646 1472H763Z"/>
<text transform="translate(848.3,685) scale(1,1.035)" font-size="30"> 5</text>
<path transform="translate(848.3,685) scale(0.014648,-0.014648)" d="M763 0H583V1147C518 1085 412 1023 306 961C267 939 243 935 222 930V1104C373 1175 486 1276 599 1377C621 1408 646 1440 646 1472H763Z"/>
<text transform="translate(848.3,556.1) scale(1,1.035)" font-size="30">20</text>
<text transform="translate(125,1106.5) scale(1,1.035)" font-size="30" text-anchor="middle">0</text>
<text transform="translate(241.5,1106.5) scale(1,1.035)" font-size="30" text-anchor="middle">20</text>
<text transform="translate(358,1106.5) scale(1,1.035)" font-size="30" text-anchor="middle">40</text>
<text transform="translate(474.5,1106.5) scale(1,1.035)" font-size="30" text-anchor="middle">60</text>
<text transform="translate(591,1106.5) scale(1,1.035)" font-size="30" text-anchor="middle">80</text>
<text transform="translate(707.5,1106.5) scale(1,1.035)" font-size="30" text-anchor="middle"> 00</text>
<path transform="translate(682.5,1106.5) scale(0.014648,-0.014648)" d="M763 0H583V1147C518 1085 412 1023 306 961C267 939 243 935 222 930V1104C373 1175 486 1276 599 1377C621 1408 646 1440 646 1472H763Z"/>
<text transform="translate(824,1106.5) scale(1,1.035)" font-size="30" text-anchor="middle"> 20</text>
<path transform="translate(799,1106.5) scale(0.014648,-0.014648)" d="M763 0H583V1147C518 1085 412 1023 306 961C267 939 243 935 222 930V1104C373 1175 486 1276 599 1377C621 1408 646 1440 646 1472H763Z"/>
<text transform="translate(32.8,791) rotate(-90)" font-size="38.5" text-anchor="middle">MFC voltage (V)</text>
<text transform="translate(931.8,796.5) rotate(-90)" font-size="38.6" text-anchor="middle" xml:space="preserve">MFC current  (mA)</text>
<text transform="translate(479.6,1158.3)" font-size="39.2" text-anchor="middle">Time (hour)</text>
<text transform="translate(143.7,595.2)" font-size="39.3" font-weight="bold">(B)</text>
<text transform="translate(503.5,576.3)" font-size="29.8">MFC voltage</text>
<text transform="translate(504,614.1)" font-size="29.8">Current from MFC</text>
<text transform="translate(505,650.3)" font-size="29.8">Output current of LVBM</text>
</svg></div>
</body></html>
